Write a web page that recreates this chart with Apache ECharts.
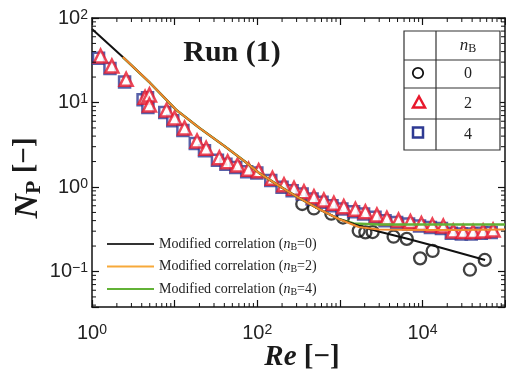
<!DOCTYPE html>
<html><head><meta charset="utf-8">
<script src="https://cdn.jsdelivr.net/npm/echarts@6/dist/echarts.min.js"></script>
<style>html,body{margin:0;padding:0;background:#fff}#c{width:506px;height:372px}</style>
</head><body><div id="c"></div>
<script>
// Measured power number N_P versus Reynolds number Re, Run (1)
// nB = 0 baffles (circles)
const reB0 = [351, 486, 790, 1093, 1694, 2040, 2500, 4480, 6470, 9380, 13300, 37600, 56900];
const npB0 = [0.629, 0.557, 0.483, 0.435, 0.303, 0.290, 0.293, 0.258, 0.243, 0.143, 0.175, 0.105, 0.137];
// nB = 2 baffles (triangles)
const reB2 = [1.27, 1.74, 2.59, 4.39, 4.96, 4.96, 8.01, 10.0, 13.2, 18.7, 24.1, 34.8, 43.9, 57.9, 78.5, 104, 153, 211, 279, 368, 486, 641, 847, 1117, 1545, 2040, 2813, 3715, 5140, 7160, 9720, 13200, 17900, 23600, 31200, 41100, 54300, 71700];
const npB2 = [35.5, 27.0, 18.8, 11.5, 12.3, 9.33, 8.15, 6.56, 4.99, 3.50, 2.87, 2.22, 1.99, 1.82, 1.62, 1.56, 1.27, 1.06, 0.966, 0.880, 0.768, 0.702, 0.641, 0.585, 0.545, 0.510, 0.467, 0.426, 0.407, 0.391, 0.370, 0.355, 0.345, 0.302, 0.297, 0.297, 0.302, 0.310];
// nB = 4 baffles (squares)
const reB4 = [1.20, 1.65, 2.48, 4.15, 4.70, 4.75, 7.6, 9.5, 12.6, 17.8, 23.0, 33.0, 41.8, 55.0, 74.6, 99, 146, 200, 265, 350, 462, 610, 805, 1060, 1470, 1940, 2670, 3530, 4880, 6800, 9230, 12500, 17000, 22400, 29600, 39000, 51600, 68100];
const npB4 = [33.5, 25.2, 17.5, 10.8, 11.4, 8.7, 7.6, 6.1, 4.65, 3.27, 2.68, 2.07, 1.86, 1.70, 1.52, 1.46, 1.19, 0.99, 0.905, 0.825, 0.720, 0.658, 0.600, 0.548, 0.510, 0.478, 0.437, 0.399, 0.380, 0.366, 0.346, 0.332, 0.322, 0.283, 0.278, 0.278, 0.283, 0.290];

// Modified correlation curves
const reCorr0 = [1, 2.36, 5.0, 10.5, 20.0, 40.0, 69.7, 106, 184, 321, 558, 972, 1694, 2950, 6410, 15600, 57400];
const npCorr0 = [74.1, 34.5, 17.2, 8.15, 4.99, 3.06, 2.03, 1.46, 1.03, 0.741, 0.549, 0.418, 0.348, 0.297, 0.246, 0.195, 0.137];
const reCorr2 = [2.36, 5.0, 10.5, 20.0, 40.0, 69.7, 106, 184, 321, 558, 972, 1694, 2950, 8950, 27100, 100000];
const npCorr2 = [34.5, 17.2, 8.15, 4.99, 3.06, 2.03, 1.46, 1.03, 0.741, 0.549, 0.418, 0.336, 0.314, 0.310, 0.310, 0.314];
const reCorr4 = [2.36, 5.0, 10.5, 20.0, 40.0, 69.7, 106, 184, 321, 558, 972, 1475, 2950, 8950, 27100, 100000];
const npCorr4 = [34.5, 17.2, 8.15, 4.99, 3.06, 2.03, 1.46, 1.03, 0.741, 0.549, 0.418, 0.370, 0.360, 0.360, 0.360, 0.360];

// Axis ranges, labelled decades and legend labels
const xRange = [1, 100000];
const yRange = [0.038, 100];
const xLabelExps = [0, 2, 4];
const yLabelExps = [-1, 0, 1, 2];
const corrNames = ['Modified correlation (nB=0)', 'Modified correlation (nB=2)', 'Modified correlation (nB=4)'];
const tableRows = ['0', '2', '4'];

const SERIF = '"Liberation Serif", "Times New Roman", serif';
const SANS = '"Liberation Sans", Arial, sans-serif';
const RED = '#e8182c', BLUE = '#2e3a93', ORANGE = '#f28a2e', GREEN = '#62b236', BLACK = '#111';

const pairs = (xs, ys) => xs.map((x, i) => [x, ys[i]]);

// minor tick positions (2..9 x 10^k) inside each axis range
function minorValues(lo, hi) {
  const out = [];
  for (let k = Math.floor(Math.log10(lo)); k <= Math.ceil(Math.log10(hi)); k++) {
    for (let m = 2; m <= 9; m++) {
      const v = m * Math.pow(10, k);
      if (v > lo && v < hi) out.push(v);
    }
  }
  return out;
}

function powLabeller(exps) {
  return function (v) {
    const e = Math.log10(v), r = Math.round(e);
    if (Math.abs(e - r) > 1e-6 || exps.indexOf(r) < 0) return '';
    return '{b|10}{s|' + (r < 0 ? '\u2212' + (-r) : r) + '}';
  };
}
const tickRich = {
  b: { fontFamily: SANS, fontSize: 20, color: '#222', lineHeight: 20, verticalAlign: 'bottom' },
  s: { fontFamily: SANS, fontSize: 14, color: '#222', lineHeight: 14, verticalAlign: 'top', padding: [0, 0, 10, 0] }
};

const axisCommon = {
  type: 'log', logBase: 10,
  axisLine: { show: true, lineStyle: { color: BLACK, width: 1.5 } },
  axisTick: { show: true, inside: true, length: 7, lineStyle: { color: BLACK, width: 1.2 } },
  splitLine: { show: false },
  minorTick: { show: false }
};

function tickSeries(values, isX) {
  return {
    type: 'custom', silent: true, z: 5, clip: false,
    xAxisIndex: 0, yAxisIndex: 0,
    data: values.map(v => isX ? [v, 1] : [1, v]),
    renderItem: function (params, api) {
      const cs = params.coordSys;
      const p = api.coord([api.value(0), api.value(1)]);
      const L = 4, st = { stroke: BLACK, lineWidth: 1 };
      if (isX) {
        const x = p[0];
        return { type: 'group', children: [
          { type: 'line', shape: { x1: x, y1: cs.y + cs.height, x2: x, y2: cs.y + cs.height - L }, style: st },
          { type: 'line', shape: { x1: x, y1: cs.y, x2: x, y2: cs.y + L }, style: st }
        ] };
      }
      const y = p[1];
      return { type: 'group', children: [
        { type: 'line', shape: { x1: cs.x, y1: y, x2: cs.x + L, y2: y }, style: st },
        { type: 'line', shape: { x1: cs.x + cs.width, y1: y, x2: cs.x + cs.width - L, y2: y }, style: st }
      ] };
    }
  };
}

function legendText(name) {
  const n = name.match(/nB=(\d)/)[1];
  return '{t|Modified correlation (}{i|n}{s|B}{t|=' + n + ')}';
}

const chart = echarts.init(document.getElementById('c'), null, { renderer: 'canvas' });
chart.setOption({
  backgroundColor: '#fff',
  animation: false,
  grid: { left: 92, right: 1, top: 18, bottom: 65, outerBoundsMode: 'none', containLabel: false },
  xAxis: [
    Object.assign({}, axisCommon, { position: 'bottom', min: xRange[0], max: xRange[1],
      axisLabel: { show: true, margin: 16, formatter: powLabeller(xLabelExps), rich: tickRich } }),
    Object.assign({}, axisCommon, { position: 'top', min: xRange[0], max: xRange[1], axisLabel: { show: false } })
  ],
  yAxis: [
    Object.assign({}, axisCommon, { position: 'left', min: yRange[0], max: yRange[1],
      axisLabel: { show: true, margin: 4, formatter: powLabeller(yLabelExps), rich: tickRich } }),
    Object.assign({}, axisCommon, { position: 'right', min: yRange[0], max: yRange[1], axisLabel: { show: false } })
  ],
  legend: {
    left: 102, top: 232, orient: 'vertical', itemWidth: 47, itemHeight: 2, itemGap: 7.5,
    icon: 'rect', selectedMode: false,
    data: corrNames,
    formatter: legendText,
    textStyle: {
      rich: {
        t: { fontFamily: SERIF, fontSize: 14, color: '#222', lineHeight: 16 },
        i: { fontFamily: SERIF, fontSize: 14, fontStyle: 'italic', color: '#222', lineHeight: 16 },
        s: { fontFamily: SERIF, fontSize: 10, color: '#222', lineHeight: 10, verticalAlign: 'bottom' }
      }
    }
  },
  series: [
    { name: 'nB=0', type: 'scatter', data: pairs(reB0, npB0), symbol: 'circle', symbolSize: 12,
      itemStyle: { color: 'rgba(255,255,255,0)', borderColor: BLACK, borderWidth: 2.3 }, z: 2 },
    { name: 'nB=4', type: 'scatter', data: pairs(reB4, npB4), symbol: 'rect', symbolSize: 11,
      itemStyle: { color: '#fff', borderColor: BLUE, borderWidth: 2.5 }, z: 2 },
    { name: 'nB=2', type: 'scatter', data: pairs(reB2, npB2), symbol: 'triangle', symbolSize: 13,
      itemStyle: { color: '#fff', borderColor: RED, borderWidth: 2.5 }, z: 2 },
    { name: corrNames[2], type: 'line', data: pairs(reCorr4, npCorr4), showSymbol: false, symbol: 'none',
      lineStyle: { color: GREEN, width: 2.5 }, itemStyle: { color: GREEN }, z: 3 },
    { name: corrNames[0], type: 'line', data: pairs(reCorr0, npCorr0), showSymbol: false, symbol: 'none',
      lineStyle: { color: BLACK, width: 2 }, itemStyle: { color: '#333' }, z: 3 },
    { name: corrNames[1], type: 'line', data: pairs(reCorr2, npCorr2), showSymbol: false, symbol: 'none',
      lineStyle: { color: ORANGE, width: 2 }, itemStyle: { color: '#f7a93a' }, z: 4 },
    tickSeries(minorValues(xRange[0], xRange[1]), true),
    tickSeries(minorValues(yRange[0], yRange[1]), false)
  ],
  graphic: [
    // panel title
    { type: 'text', x: 232, y: 53, style: { text: 'Run (1)', font: 'bold 30px ' + SERIF, fill: '#1a1a1a', align: 'center', verticalAlign: 'middle' } },
    // axis titles
    { type: 'text', x: 302, y: 358, style: {
      text: '{r|Re}{b| [\u2212]}', align: 'center', verticalAlign: 'middle',
      rich: { r: { fontFamily: SERIF, fontSize: 29, fontWeight: 'bold', fontStyle: 'italic', fill: '#1a1a1a' },
              b: { fontFamily: SERIF, fontSize: 29, fontWeight: 'bold', fill: '#1a1a1a' } } } },
    { type: 'text', x: 28, y: 178, rotation: Math.PI / 2, style: {
      text: '{n|N}{p|P}{b| [\u2212]}', align: 'center', verticalAlign: 'middle',
      rich: { n: { fontFamily: SERIF, fontSize: 34, fontWeight: 'bold', fontStyle: 'italic', fill: '#1a1a1a', lineHeight: 34, verticalAlign: 'top' },
              p: { fontFamily: SERIF, fontSize: 22, fontWeight: 'bold', fill: '#1a1a1a', lineHeight: 22, verticalAlign: 'bottom' },
              b: { fontFamily: SERIF, fontSize: 29, fontWeight: 'bold', fill: '#1a1a1a', lineHeight: 34, verticalAlign: 'top' } } } },
    // marker table
    { type: 'rect', shape: { x: 404, y: 31, width: 96, height: 119 }, style: { fill: '#fff', stroke: '#333', lineWidth: 1.2 }, z: 10 },
    { type: 'line', shape: { x1: 436, y1: 31, x2: 436, y2: 150 }, style: { stroke: '#333', lineWidth: 1.2 }, z: 11 },
    { type: 'line', shape: { x1: 404, y1: 60, x2: 500, y2: 60 }, style: { stroke: '#333', lineWidth: 1.2 }, z: 11 },
    { type: 'line', shape: { x1: 404, y1: 88, x2: 500, y2: 88 }, style: { stroke: '#333', lineWidth: 1.2 }, z: 11 },
    { type: 'line', shape: { x1: 404, y1: 119, x2: 500, y2: 119 }, style: { stroke: '#333', lineWidth: 1.2 }, z: 11 },
    { type: 'text', x: 468, y: 46, z: 11, style: { text: '{i|n}{s|B}', align: 'center', verticalAlign: 'middle',
      rich: { i: { fontFamily: SERIF, fontSize: 17, fontStyle: 'italic', fill: '#222', lineHeight: 18 },
              s: { fontFamily: SERIF, fontSize: 12, fill: '#222', lineHeight: 12, verticalAlign: 'bottom' } } } },
    { type: 'text', x: 468, y: 74, z: 11, style: { text: tableRows[0], font: '16px ' + SERIF, fill: '#222', align: 'center', verticalAlign: 'middle' } },
    { type: 'text', x: 468, y: 104, z: 11, style: { text: tableRows[1], font: '16px ' + SERIF, fill: '#222', align: 'center', verticalAlign: 'middle' } },
    { type: 'text', x: 468, y: 135, z: 11, style: { text: tableRows[2], font: '16px ' + SERIF, fill: '#222', align: 'center', verticalAlign: 'middle' } },
    { type: 'circle', shape: { cx: 418, cy: 73, r: 5.2 }, style: { fill: '#fff', stroke: BLACK, lineWidth: 1.8 }, z: 11 },
    { type: 'polygon', shape: { points: [[419, 96.5], [425, 107.5], [413, 107.5]] }, style: { fill: '#fff', stroke: RED, lineWidth: 2.5 }, z: 11 },
    { type: 'rect', shape: { x: 413, y: 127.5, width: 10, height: 10 }, style: { fill: '#fff', stroke: BLUE, lineWidth: 2.5 }, z: 11 }
  ]
});
</script>
</body></html>
